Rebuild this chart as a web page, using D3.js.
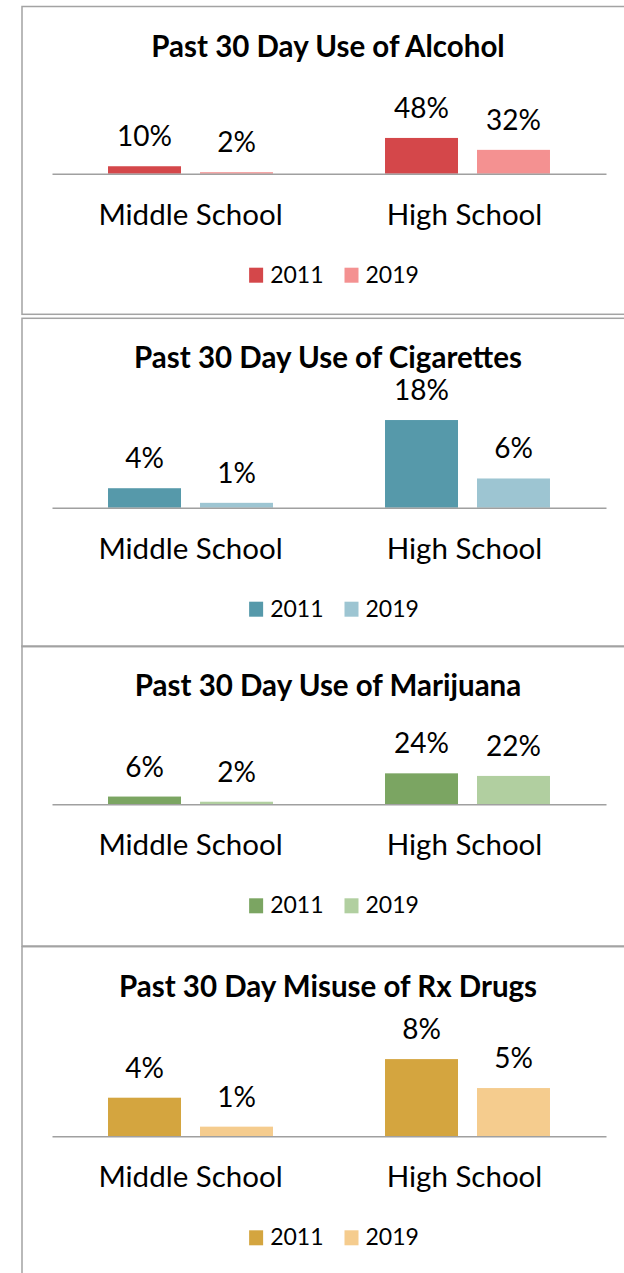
<!DOCTYPE html>
<html>
<head>
<meta charset="utf-8">
<script src="https://cdn.jsdelivr.net/npm/d3@7"></script>
<style>
  body { margin: 0; background: #fff; }
  svg { display: block; }
</style>
</head>
<body>
<div id="chart"></div>
<script>
// data
const categories = ["Middle School", "High School"]
const years = ["2011", "2019"]
const titles = [
  "Past 30 Day Use of Alcohol",
  "Past 30 Day Use of Cigarettes",
  "Past 30 Day Use of Marijuana",
  "Past 30 Day Misuse of Rx Drugs"
]
// values per panel: [middle 2011, middle 2019], [high 2011, high 2019]
const alcohol = [[10, 2], [48, 32]]
const cigarettes = [[4, 1], [18, 6]]
const marijuana = [[6, 2], [24, 22]]
const rxDrugs = [[4, 1], [8, 5]]
const axisMax = [60, 20, 30, 10]
const colors = [
  ["#d4474a", "#f49191"],
  ["#5699aa", "#9dc5d2"],
  ["#7ba562", "#b1cfa0"],
  ["#d4a53f", "#f5cc8e"]
]

const allValues = [alcohol, cigarettes, marijuana, rxDrugs]

let width = 624
let height = 1273

// panel layout (top, axis line, bottom, plot height for axisMax)
let panels = [
  {top: 6.5, axis: 173.7, bottom: 314.3, plotH: 44.7},
  {top: 318.3, axis: 507.7, bottom: 646.7, plotH: 97.4},
  {top: 646, axis: 804.3, bottom: 946, plotH: 38.7},
  {top: 946.7, axis: 1136.3, bottom: 1300, plotH: 96.5}
]

let font = "Lato, 'Open Sans', sans-serif"
let text_size_title = 29.5
let text_size_label = 28
let text_size_cat = 29.5
let text_size_legend = 23
let cx = 328

let svg = d3.select("#chart").append("svg")
  .attr("width", width)
  .attr("height", height)
  .attr("viewBox", [0, 0, width, height])

let x0 = d3.scaleBand().domain(categories).range([52, 606])
let x1 = d3.scaleBand().domain(years).range([0, x0.bandwidth()])
  .paddingInner(0.2065).paddingOuter(0.609)

panels.forEach((p, k) => {
  let data = allValues[k]
  let y = d3.scaleLinear().domain([0, axisMax[k]]).range([p.axis, p.axis - p.plotH])

  let g = svg.append("g")

  // panel border
  g.append("rect")
    .attr("x", 22).attr("y", p.top)
    .attr("width", 640).attr("height", p.bottom - p.top)
    .attr("fill", "none")
    .attr("stroke", "#a3a3a3").attr("stroke-width", 1.5)

  // title
  g.append("text")
    .attr("x", cx).attr("y", p.top + 50)
    .attr("text-anchor", "middle")
    .attr("font-family", font).attr("font-weight", 700).attr("font-size", text_size_title)
    .attr("fill", "#000")
    .text(titles[k])

  let groups = g.selectAll("g.cat")
    .data(categories)
    .join("g")
    .attr("class", "cat")
    .attr("transform", d => `translate(${x0(d)},0)`)

  groups.selectAll("rect")
    .data((d, i) => years.map((yr, j) => ({yr, j, v: data[i][j]})))
    .join("rect")
    .attr("x", d => x1(d.yr))
    .attr("y", d => y(d.v))
    .attr("width", x1.bandwidth())
    .attr("height", d => p.axis - y(d.v))
    .attr("fill", d => colors[k][d.j])

  groups.selectAll("text.val")
    .data((d, i) => years.map((yr, j) => ({yr, j, v: data[i][j]})))
    .join("text")
    .attr("class", "val")
    .attr("x", d => x1(d.yr) + x1.bandwidth() / 2)
    .attr("y", d => y(d.v) - 20)
    .attr("text-anchor", "middle")
    .attr("font-family", font).attr("font-size", text_size_label)
    .attr("fill", "#000")
    .text(d => `${d.v}%`)

  // axis line
  let axis = d3.axisBottom(x0).tickSize(0).tickPadding(0)
  let ag = g.append("g")
    .attr("transform", `translate(0,${p.axis})`)
    .call(axis)
  ag.select(".domain").attr("stroke", "#a0a0a0").attr("stroke-width", 1.5)
  ag.selectAll("text")
    .attr("dy", null)
    .attr("y", 51)
    .attr("x", (d, i) => i == 1 ? -3 : 0)
    .attr("font-family", font).attr("font-size", text_size_cat)
    .attr("fill", "#000")

  // legend
  let lg = g.append("g").attr("transform", `translate(0,${p.axis + 109})`)
  let items = lg.selectAll("g")
    .data(years)
    .join("g")
  items.append("rect")
    .attr("y", -15).attr("width", 14).attr("height", 15)
    .attr("fill", (d, j) => colors[k][j])
  items.append("text")
    .attr("x", 21)
    .attr("font-family", font).attr("font-size", text_size_legend)
    .attr("fill", "#000")
    .text(d => d)
  let widths = items.nodes().map(n => n.getBBox().width)
  let gap = 21
  let total = d3.sum(widths) + gap
  let xpos = 334 - total / 2
  items.attr("transform", (d, j) => {
    let t = `translate(${xpos},0)`
    xpos += widths[j] + gap
    return t
  })
})
</script>
</body>
</html>
